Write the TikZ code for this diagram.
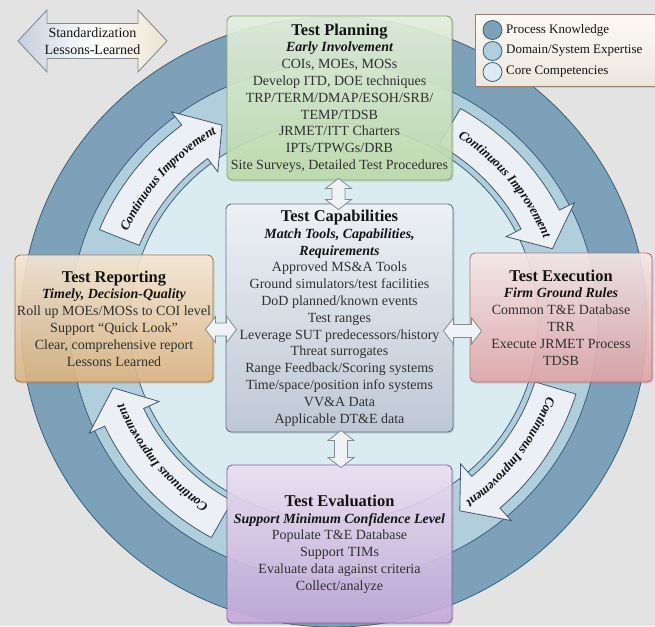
\documentclass[tikz,border=0pt]{standalone}
\usepackage{fontspec}
\setmainfont{Liberation Serif}
\usetikzlibrary{calc,shadows,decorations.text}

\definecolor{bgc}{RGB}{227,227,227}
\definecolor{ringdark}{RGB}{124,161,185}
\definecolor{ringmid}{RGB}{176,206,220}
\definecolor{ringlight}{RGB}{218,235,242}
\definecolor{ringline}{RGB}{58,96,124}
\definecolor{arrowfill}{RGB}{236,239,243}
\definecolor{arrowline}{RGB}{62,88,112}
\definecolor{plandraw}{RGB}{128,168,108}
\definecolor{plantop}{RGB}{232,243,225}
\definecolor{planbot}{RGB}{188,219,170}
\definecolor{capdraw}{RGB}{92,110,138}
\definecolor{captop}{RGB}{244,246,249}
\definecolor{capbot}{RGB}{190,199,214}
\definecolor{repdraw}{RGB}{160,120,80}
\definecolor{reptop}{RGB}{250,234,214}
\definecolor{repbot}{RGB}{222,180,128}
\definecolor{exedraw}{RGB}{182,112,112}
\definecolor{exetop}{RGB}{250,234,234}
\definecolor{exebot}{RGB}{226,165,167}
\definecolor{evaldraw}{RGB}{128,98,162}
\definecolor{evaltop}{RGB}{238,226,245}
\definecolor{evalbot}{RGB}{198,170,220}
\definecolor{legdraw}{RGB}{150,128,112}
\definecolor{legtop}{RGB}{252,250,246}
\definecolor{legbot}{RGB}{236,230,222}
\definecolor{bodytext}{RGB}{48,48,48}
\definecolor{titletext}{RGB}{20,20,20}
\definecolor{dblfill}{RGB}{240,242,245}
\definecolor{dbldraw}{RGB}{130,138,148}
\definecolor{stdleft}{RGB}{196,206,220}
\definecolor{stdright}{RGB}{236,228,210}

\newcommand{\bodysize}{\fontsize{14}{16.8}\selectfont}
\newcommand{\boxtitle}[1]{{\fontsize{16.5}{16.8}\selectfont\bfseries\color{titletext}#1}}
\newcommand{\subttl}[1]{{\bfseries\itshape\color{titletext}#1}}
\newcommand{\cifont}{\fontsize{13}{13}\selectfont\bfseries\itshape}

% curved "Continuous Improvement" arrow: tail angle, head base angle, tip angle
\newcommand{\ciarrow}[3]{%
  \filldraw[ciarrowstyle] (#1:253) arc[start angle=#1, end angle=#2, radius=253]
    -- (#2:270) -- (#3:231) -- (#2:193) -- (#2:210)
    arc[start angle=#2, end angle=#1, radius=210] -- cycle;
  \path[decorate, decoration={text along path, text align=center, raise=-4.5pt,
      text color=titletext, text={|\cifont|Continuous Improvement}}]
    (#1:231) arc[start angle=#1, end angle=#3, radius=231];
}

\tikzset{
  fatdbl/.style n args={3}{to path={
    let \p1=(\tikztostart), \p2=(\tikztotarget), \n1={atan2(\y2-\y1,\x2-\x1)} in
    (\p1) -- ($(\p1)+(\n1:#1)+(\n1+90:#2)$) -- ($(\p1)+(\n1:#1)+(\n1+90:#3)$)
    -- ($(\p2)+(\n1:-#1)+(\n1+90:#3)$) -- ($(\p2)+(\n1:-#1)+(\n1+90:#2)$)
    -- (\p2)
    -- ($(\p2)+(\n1:-#1)+(\n1-90:#2)$) -- ($(\p2)+(\n1:-#1)+(\n1-90:#3)$)
    -- ($(\p1)+(\n1:#1)+(\n1-90:#3)$) -- ($(\p1)+(\n1:#1)+(\n1-90:#2)$) -- cycle}},
  linkarrow/.style={fatdbl={10}{13}{6.5}, fill=dblfill, draw=dbldraw, line width=0.8pt, line join=miter},
  ringstyle/.style={draw=ringline, line width=0.8pt},
  ciarrowstyle/.style={fill=arrowfill, draw=arrowline, line width=0.8pt, line join=miter},
  tbox/.style n args={3}{rectangle, rounded corners=5pt, draw=#1, top color=#2, bottom color=#3,
    line width=0.9pt, fill opacity=0.88, text opacity=1, align=center, font=\bodysize,
    text=bodytext, inner sep=2pt,
    drop shadow={opacity=0.25, shadow xshift=1.5pt, shadow yshift=-1.5pt}},
  legendbox/.style={rectangle, draw=legdraw, top color=legtop, bottom color=legbot, line width=0.8pt,
    drop shadow={opacity=0.25, shadow xshift=1.5pt, shadow yshift=-1.5pt}},
  lgdot/.style={circle, draw=ringline, line width=0.8pt, minimum size=19pt, inner sep=0pt},
  lgtext/.style={anchor=west, font=\fontsize{13}{15}\selectfont, text=titletext, inner sep=0pt},
}

\begin{document}
\begin{tikzpicture}[x=1pt,y=1pt]
\fill[bgc] (0,0) rectangle (655,-626);
\useasboundingbox (0,0) rectangle (655,-626);

% rings and curved arrows
\begin{scope}
\clip (0,0) rectangle (655,-626);
\begin{scope}[shift={(334,-322)}, yscale=0.9744]
  \filldraw[ringstyle, fill=ringdark] (0,0) circle[radius=313];
  \filldraw[ringstyle, fill=ringmid] (0,0) circle[radius=264];
  \filldraw[ringstyle, fill=ringlight] (0,0) circle[radius=204];
  \ciarrow{158}{127}{119}
  \ciarrow{60}{27}{19}
  \ciarrow{-17}{-49}{-57}
  \ciarrow{241}{205}{197}
\end{scope}
\end{scope}

% Standardization / Lessons-Learned arrow
\coordinate (stdL) at (18,-41);
\coordinate (stdR) at (167,-41);
\draw[fatdbl={29}{31}{17.5}, left color=stdleft, right color=stdright, middle color=white,
      draw=dbldraw, line width=0.9pt, line join=miter] (stdL) to (stdR);
\node[font=\fontsize{14}{16.5}\selectfont, align=center, text=titletext, inner sep=0pt]
  (stdtext) at (92.5,-41) {Standardization\\Lessons-Learned};

% legend
\node[legendbox, minimum width=186pt, minimum height=72pt, anchor=north west] (legend) at (475,-14) {};
\node[lgdot, fill=ringdark] (lg1) at (492.5,-30) {};
\node[lgdot, fill=ringmid] (lg2) at (492.5,-51) {};
\node[lgdot, fill=ringlight] (lg3) at (492.5,-72) {};
\node[lgtext] (lt1) at (506,-30) {Process Knowledge};
\node[lgtext] (lt2) at (506,-51) {Domain/System Expertise};
\node[lgtext] (lt3) at (506,-72) {Core Competencies};

% boxes
\node[tbox={plandraw}{plantop}{planbot}, minimum width=225pt, minimum height=164pt] (plan) at (339.5,-98)
 {\boxtitle{Test Planning}\\ \subttl{Early Involvement}\\ COIs, MOEs, MOSs\\ Develop ITD, DOE techniques\\
  TRP/TERM/DMAP/ESOH/SRB/\\ TEMP/TDSB\\ JRMET/ITT Charters\\ IPTs/TPWGs/DRB\\ Site Surveys, Detailed Test Procedures};

\node[tbox={capdraw}{captop}{capbot}, minimum width=227pt, minimum height=228pt] (cap) at (339.5,-318)
 {\boxtitle{Test Capabilities}\\ \subttl{Match Tools, Capabilities,}\\ \subttl{Requirements}\\
  Approved MS\&A Tools\\ Ground simulators/test facilities\\ DoD planned/known events\\ Test ranges\\
  Leverage SUT predecessors/history\\ Threat surrogates\\ Range Feedback/Scoring systems\\
  Time/space/position info systems\\ VV\&A Data\\ Applicable DT\&E data};

\node[tbox={repdraw}{reptop}{repbot}, minimum width=192pt, minimum height=127pt] (rep) at (114,-318.5)
 {\boxtitle{Test Reporting}\\ \subttl{Timely, Decision-Quality}\\ Roll up MOEs/MOSs to COI level\\
  Support “Quick Look”\\ Clear, comprehensive report\\ Lessons Learned};

\node[tbox={exedraw}{exetop}{exebot}, minimum width=182pt, minimum height=129pt] (exe) at (561,-317.5)
 {\boxtitle{Test Execution}\\ \subttl{Firm Ground Rules}\\ Common T\&E Database\\ TRR\\
  Execute JRMET Process\\ TDSB};

\node[tbox={evaldraw}{evaltop}{evalbot}, minimum width=225pt, minimum height=158pt] (eval) at (339.5,-544)
 {\boxtitle{Test Evaluation}\\ \subttl{Support Minimum Confidence Level}\\ Populate T\&E Database\\
  Support TIMs\\ Evaluate data against criteria\\ Collect/analyze};

% double-headed links between boxes
\coordinate (v1s) at ($(plan.south)+(-1,2)$);
\coordinate (v1e) at ($(cap.north)+(-1,-6)$);
\coordinate (v2s) at ($(cap.south)+(1.5,2)$);
\coordinate (v2e) at ($(eval.north)+(1.5,-3)$);
\coordinate (h1s) at ($(rep.east)+(-8,-11)$);
\coordinate (h1e) at ($(cap.west |- h1s)+(11,0)$);
\coordinate (h2s) at ($(cap.east)+(-10,-13)$);
\coordinate (h2e) at ($(exe.west |- h2s)+(12,0)$);
\draw[linkarrow] (v1s) to (v1e);
\draw[linkarrow] (v2s) to (v2e);
\draw[linkarrow] (h1s) to (h1e);
\draw[linkarrow] (h2s) to (h2e);
\end{tikzpicture}
\end{document}
